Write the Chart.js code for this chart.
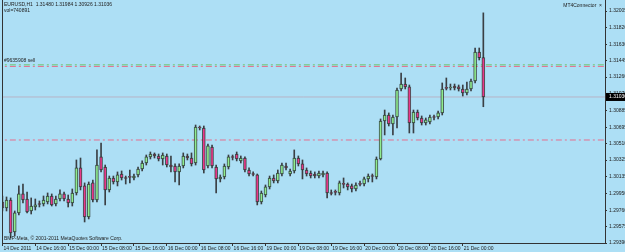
<!DOCTYPE html>
<html>
<head>
<meta charset="utf-8">
<script src="https://cdn.jsdelivr.net/npm/chart.js@4.4.1/dist/chart.umd.min.js"></script>
<style>
  html, body { margin: 0; padding: 0; background: #addff5; }
  #wrap { width: 625px; height: 252px; }
</style>
</head>
<body>
<div id="wrap"><canvas id="mt4Chart" width="625" height="252"></canvas></div>
<script>
// EURUSD H1, 14 Dec 2011 08:00 .. 21 Dec 2011 05:00 (118 bars)
const openP = [1.29852,1.29785,1.29875,1.29514,1.29729,1.29943,1.29886,1.29751,1.29796,1.29830,
  1.29830,1.29852,1.29920,1.29830,1.29886,1.29943,1.29886,1.29841,1.29954,1.30236,
  1.30033,1.29683,1.30067,1.29875,1.30360,1.30247,1.29988,1.30123,1.30078,1.30168,
  1.30123,1.30134,1.30123,1.30157,1.30224,1.30292,1.30360,1.30393,1.30371,1.30337,
  1.30371,1.30269,1.30258,1.30191,1.30258,1.30371,1.30348,1.30292,1.30698,1.30686,
  1.30258,1.30472,1.30247,1.30112,1.30134,1.30247,1.30360,1.30393,1.30315,1.30348,
  1.30213,1.30168,1.30157,1.29852,1.29931,1.30022,1.30123,1.30089,1.30168,1.30258,
  1.30168,1.30202,1.30348,1.30281,1.30213,1.30179,1.30168,1.30145,1.30157,1.30179,
  1.29954,1.29965,1.29954,1.30055,1.30055,1.30033,1.29999,1.30055,1.30055,1.30112,
  1.30145,1.30134,1.30337,1.30765,1.30833,1.30732,1.30810,1.31126,1.31182,1.31149,
  1.30743,1.30867,1.30799,1.30743,1.30754,1.30810,1.30810,1.30856,1.31137,1.31137,
  1.31160,1.31149,1.31126,1.31081,1.31126,1.31216,1.31543,1.31480];
const highP = [1.29920,1.29909,1.29898,1.29751,1.30033,1.30055,1.29965,1.29898,1.29886,1.29864,
  1.29920,1.29954,1.29943,1.29920,1.29988,1.29965,1.29931,1.29999,1.30326,1.30348,
  1.30067,1.30078,1.30100,1.30439,1.30517,1.30269,1.30145,1.30145,1.30191,1.30202,
  1.30145,1.30213,1.30168,1.30247,1.30315,1.30382,1.30416,1.30405,1.30393,1.30405,
  1.30393,1.30371,1.30281,1.30281,1.30405,1.30393,1.30405,1.30720,1.30709,1.30709,
  1.30506,1.30495,1.30269,1.30157,1.30281,1.30382,1.30382,1.30416,1.30371,1.30360,
  1.30236,1.30191,1.30168,1.29976,1.30044,1.30145,1.30157,1.30213,1.30292,1.30292,
  1.30224,1.30439,1.30371,1.30326,1.30236,1.30202,1.30191,1.30202,1.30202,1.30191,
  1.29988,1.29988,1.30089,1.30123,1.30067,1.30055,1.30067,1.30089,1.30134,1.30168,
  1.30168,1.30360,1.30788,1.30889,1.30856,1.30833,1.31137,1.31306,1.31250,1.31171,
  1.30889,1.30889,1.30822,1.30799,1.30833,1.30833,1.30878,1.31194,1.31250,1.31182,
  1.31182,1.31171,1.31171,1.31205,1.31239,1.31588,1.31588,1.31984];
const lowP = [1.29751,1.29751,1.29447,1.29469,1.29706,1.29841,1.29729,1.29717,1.29762,1.29796,
  1.29807,1.29830,1.29807,1.29807,1.29864,1.29864,1.29796,1.29807,1.29931,1.29988,
  1.29627,1.29661,1.29852,1.29852,1.30191,1.29819,1.29965,1.30055,1.30033,1.30100,
  1.30055,1.30067,1.30100,1.30134,1.30202,1.30269,1.30337,1.30348,1.30315,1.30269,
  1.30247,1.30191,1.30078,1.30044,1.30236,1.30326,1.30258,1.30269,1.30664,1.30179,
  1.30236,1.30236,1.29954,1.30078,1.30112,1.30224,1.30326,1.30315,1.30292,1.30191,
  1.30145,1.30145,1.29819,1.29830,1.29909,1.29999,1.30067,1.30067,1.30145,1.30213,
  1.30145,1.30179,1.30258,1.30112,1.30145,1.30123,1.30123,1.30123,1.30134,1.29898,
  1.29931,1.29931,1.29931,1.30010,1.29988,1.29965,1.29976,1.30033,1.30033,1.30078,
  1.30078,1.30112,1.30326,1.30608,1.30709,1.30608,1.30686,1.31103,1.31126,1.30630,
  1.30630,1.30777,1.30720,1.30720,1.30732,1.30777,1.30788,1.30833,1.31115,1.31115,
  1.31115,1.31103,1.31047,1.31058,1.31103,1.31194,1.31453,1.30926];
const closeP = [1.29785,1.29875,1.29503,1.29729,1.29943,1.29875,1.29740,1.29807,1.29819,1.29824,
  1.29875,1.29920,1.29819,1.29886,1.29943,1.29886,1.29841,1.29954,1.30236,1.30022,
  1.29683,1.30055,1.29875,1.30269,1.30213,1.29988,1.30123,1.30078,1.30157,1.30123,
  1.30117,1.30129,1.30145,1.30224,1.30292,1.30360,1.30393,1.30371,1.30337,1.30382,
  1.30269,1.30247,1.30191,1.30258,1.30371,1.30348,1.30281,1.30698,1.30686,1.30213,
  1.30484,1.30258,1.30112,1.30134,1.30258,1.30360,1.30354,1.30337,1.30348,1.30213,
  1.30168,1.30162,1.29852,1.29954,1.30022,1.30123,1.30089,1.30179,1.30269,1.30236,
  1.30202,1.30348,1.30281,1.30213,1.30168,1.30145,1.30145,1.30179,1.30179,1.29954,
  1.29948,1.29960,1.30067,1.30050,1.30022,1.29999,1.30044,1.30050,1.30112,1.30145,
  1.30140,1.30337,1.30765,1.30833,1.30732,1.30810,1.31115,1.31182,1.31149,1.30743,
  1.30867,1.30799,1.30743,1.30777,1.30810,1.30805,1.30856,1.31126,1.31132,1.31143,
  1.31137,1.31126,1.31081,1.31126,1.31216,1.31543,1.31480,1.31036];

// price axis labels on the right
const yTicks = [1.32005,1.31820,1.31630,1.31445,1.31260,1.31070,1.30885,1.30695,
  1.30510,1.30325,1.30135,1.29950,1.29760,1.29575,1.29390];

// time labels, every 8 bars
const xTickIdx = [0,8,16,24,32,40,48,56,64,72,80,88,96,104,112];
const xTickText = ['14 Dec 2011','14 Dec 16:00','15 Dec 00:00','15 Dec 08:00','15 Dec 16:00',
  '16 Dec 00:00','16 Dec 08:00','16 Dec 16:00','19 Dec 00:00','19 Dec 08:00','19 Dec 16:00',
  '20 Dec 00:00','20 Dec 08:00','20 Dec 16:00','21 Dec 00:00'];

// order levels: sell order (two lines), stop level
const sellLevels = [1.31398, 1.31380];
const stopLevel = 1.30551;

const lastIdx = closeP.length - 1;
const bid = closeP[lastIdx];

const font5 = { family: 'Liberation Sans', size: 5 };

const bodies = openP.map((o, i) => ({ x: i, y: [o, closeP[i]] }));
const wicks = lowP.map((l, i) => ({ x: i, y: [l, highP[i]] }));
const bodyColors = openP.map((o, i) => closeP[i] >= o ? '#8fec8f' : '#e8398a');

function hLine(v) {
  return [{ x: -5, y: v }, { x: 160, y: v }];
}

function noPad(s) {
  s.paddingTop = 0;
  s.paddingBottom = 0;
  s.paddingLeft = 0;
  s.paddingRight = 0;
}

const mt4Look = {
  id: 'mt4Look',
  beforeDraw(chart) {
    const ctx = chart.ctx;
    ctx.save();
    ctx.fillStyle = '#addff5';
    ctx.fillRect(0, 0, chart.width, chart.height);
    ctx.restore();
  },
  afterDraw(chart) {
    const ctx = chart.ctx;
    const area = chart.chartArea;
    ctx.save();
    // left frame line
    ctx.strokeStyle = '#333';
    ctx.lineWidth = 1;
    ctx.beginPath();
    ctx.moveTo(area.left + 0.5, 0);
    ctx.lineTo(area.left + 0.5, area.bottom);
    ctx.stroke();

    ctx.fillStyle = '#222';
    ctx.font = '5px "Liberation Sans"';
    ctx.textBaseline = 'middle';
    ctx.textAlign = 'left';
    ctx.fillText('EURUSD,H1  1.31480 1.31984 1.30926 1.31036', 4, 5);
    ctx.fillText('vol=740891', 4, 11);
    ctx.fillText('#9635908 sell', 4, 61);
    ctx.fillText('BMP-Meta, \u00a9 2001-2011 MetaQuotes Software Corp.', 4, 239);
    ctx.textAlign = 'right';
    ctx.fillText('MT4Connector  \u00d7', 602, 6);

    // bid price box
    const y = chart.scales.y.getPixelForValue(bid);
    ctx.fillStyle = '#000';
    ctx.fillRect(area.right + 1, y - 4, 24, 8);
    ctx.fillStyle = '#fff';
    ctx.textAlign = 'left';
    ctx.fillText(bid.toFixed(5), area.right + 4, y);
    ctx.restore();
  }
};

new Chart(document.getElementById('mt4Chart'), {
  type: 'bar',
  data: {
    datasets: [
      {
        type: 'bar', data: bodies, backgroundColor: bodyColors,
        borderColor: 'rgba(35,45,35,0.75)', borderWidth: 1, borderSkipped: false,
        barThickness: 3, minBarLength: 1, grouped: false, order: 0
      },
      {
        type: 'bar', data: wicks, backgroundColor: '#3a3f44', borderWidth: 0,
        barThickness: 1, grouped: false, order: 1
      },
      {
        type: 'line', data: hLine(sellLevels[0]), borderColor: '#6cc46c', borderWidth: 1,
        borderDash: [6, 3, 2, 3], pointRadius: 0, order: 2
      },
      {
        type: 'line', data: hLine(sellLevels[1]), borderColor: '#e5708f', borderWidth: 1,
        borderDash: [6, 3, 2, 3], pointRadius: 0, order: 3
      },
      {
        type: 'line', data: hLine(stopLevel), borderColor: '#e5708f', borderWidth: 1,
        borderDash: [6, 3, 2, 3], pointRadius: 0, order: 2
      },
      {
        type: 'line', data: hLine(bid), borderColor: '#b7b3c6', borderWidth: 1,
        pointRadius: 0, order: 2
      }
    ]
  },
  options: {
    responsive: false,
    animation: false,
    events: [],
    layout: { padding: { left: 2, top: 0, right: 0, bottom: 0 } },
    plugins: { legend: { display: false }, tooltip: { enabled: false } },
    scales: {
      x: {
        type: 'linear', min: -0.1, max: 146.6, offset: false,
        afterBuildTicks: s => { s.ticks = xTickIdx.map(v => ({ value: v })); },
        afterFit: s => { s.height = 9; noPad(s); },
        grid: { drawOnChartArea: false, tickLength: 3, color: '#333', offset: false },
        border: { display: true, color: '#333', width: 1 },
        ticks: {
          autoSkip: false, maxRotation: 0, align: 'start', labelOffset: 1, padding: 0,
          font: font5, color: '#222',
          callback: v => { const k = xTickIdx.indexOf(v); return k >= 0 ? xTickText[k] : ''; }
        }
      },
      y: {
        position: 'right', min: 1.29390, max: 1.32129,
        afterBuildTicks: s => { s.ticks = yTicks.map(v => ({ value: v })); },
        afterFit: s => { s.width = 20; noPad(s); },
        grid: { drawOnChartArea: false, tickLength: 2, color: '#333' },
        border: { display: true, color: '#333', width: 1 },
        ticks: { padding: 2, font: font5, color: '#222', callback: v => v.toFixed(5) }
      }
    }
  },
  plugins: [mt4Look]
});
</script>
</body>
</html>
